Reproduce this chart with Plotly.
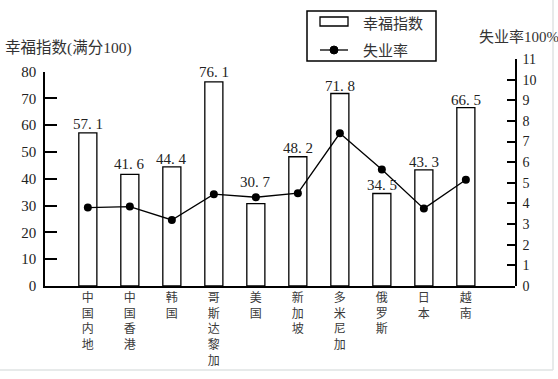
import plotly.graph_objects as go

# ---- data ----
countries = ["中国内地", "中国香港", "韩国", "哥斯达黎加", "美国",
             "新加坡", "多米尼加", "俄罗斯", "日本", "越南"]
happiness = [57.1, 41.6, 44.4, 76.1, 30.7, 48.2, 71.8, 34.5, 43.3, 66.5]
unemployment = [3.8, 3.85, 3.2, 4.45, 4.3, 4.5, 7.4, 5.65, 3.75, 5.15]
left_ticks = list(range(0, 81, 10))
right_ticks = list(range(0, 12))

# ---- styling helpers (not data) ----
bar_labels = [f"{v:.1f}".replace(".", ". ") for v in happiness]
x_labels = ["<br>".join(c) for c in countries]
label_lift = [8.5, 10, 8, 10, 21.5, 9, 7.5, 9, 7.5, 7.5]   # px above bar top

W, H = 558, 379
L, R, T, B = 45, 43, 59, 93
PW = W - L - R
PH = H - T - B


def px(x):
    return (x - L) / PW


def py(y):
    return (H - B - y) / PH


SERIF = "Liberation Serif, Noto Sans CJK SC, serif"
CJK = "Noto Sans CJK SC, sans-serif"
TXT = "#222222"

xs = list(range(len(countries)))
xrange_ = [-1.02, 10.17]

fig = go.Figure()
fig.add_trace(go.Bar(
    x=xs, y=happiness, width=0.43,
    marker=dict(color="white", line=dict(color="black", width=1.3)),
    showlegend=False, xaxis="x", yaxis="y", hoverinfo="skip",
))
fig.add_trace(go.Scatter(
    x=xs, y=unemployment, mode="lines+markers",
    line=dict(color="black", width=1.3),
    marker=dict(color="black", size=8),
    showlegend=False, xaxis="x2", yaxis="y2", cliponaxis=False,
))

fig.update_layout(
    width=W, height=H,
    margin=dict(l=L, r=R, t=T, b=B, pad=0),
    paper_bgcolor="white", plot_bgcolor="rgba(0,0,0,0)",
    showlegend=False,
    xaxis=dict(domain=[0, 1], range=xrange_, anchor="y",
               tickvals=xs, ticktext=x_labels,
               tickfont=dict(family=CJK, size=12, color="#3a3a3a"),
               showline=True, linecolor="black", linewidth=1.5,
               ticks="", showgrid=False, zeroline=False, fixedrange=True),
    yaxis=dict(domain=[0, 214.5 / PH], range=[0, 80], anchor="x",
               tickvals=left_ticks,
               ticks="inside", ticklen=12, tickwidth=1.5, tickcolor="black",
               showline=True, linecolor="black", linewidth=1.5,
               showgrid=False, zeroline=False, ticklabelstandoff=4,
               tickfont=dict(family=SERIF, size=15, color=TXT)),
    xaxis2=dict(domain=[0, 1], range=xrange_, anchor="y2", visible=False,
                showgrid=False, zeroline=False),
    yaxis2=dict(domain=[0, 1], range=[0, 11], anchor="x2", side="right",
                tickvals=right_ticks,
                ticks="inside", ticklen=8, tickwidth=1.5, tickcolor="black",
                showline=True, linecolor="black", linewidth=1.5,
                showgrid=False, zeroline=False, ticklabelstandoff=3,
                tickfont=dict(family=SERIF, size=14, color=TXT)),
)

annotations = [
    dict(text=lbl, x=xi, y=v, xref="x", yref="y", xanchor="center",
         yanchor="middle", yshift=lift, showarrow=False,
         font=dict(family=SERIF, size=15, color=TXT))
    for xi, v, lbl, lift in zip(xs, happiness, bar_labels, label_lift)
]
annotations += [
    dict(text="幸福指数(满分100)", x=px(3), y=py(48), xref="paper", yref="paper",
         xanchor="left", yanchor="middle", showarrow=False,
         font=dict(family=SERIF, size=15.5, color="#333333")),
    dict(text="失业率100%", x=px(477), y=py(37), xref="paper", yref="paper",
         xanchor="left", yanchor="middle", showarrow=False,
         font=dict(family=SERIF, size=15, color="#333333")),
    dict(text="幸福指数", x=px(361), y=py(22), xref="paper", yref="paper",
         xanchor="left", yanchor="middle", showarrow=False,
         font=dict(family=CJK, size=15, color="#333333")),
    dict(text="失业率", x=px(361), y=py(50), xref="paper", yref="paper",
         xanchor="left", yanchor="middle", showarrow=False,
         font=dict(family=CJK, size=15, color="#333333")),
]

shapes = [
    # legend box
    dict(type="rect", xref="paper", yref="paper",
         x0=px(307), x1=px(436), y0=py(61), y1=py(11),
         line=dict(color="black", width=1.5), fillcolor="white", layer="above"),
    # bar symbol
    dict(type="rect", xref="paper", yref="paper",
         x0=px(320), x1=px(348), y0=py(26), y1=py(17),
         line=dict(color="black", width=1.3), fillcolor="white", layer="above"),
    # line symbol
    dict(type="line", xref="paper", yref="paper",
         x0=px(320), x1=px(348), y0=py(50), y1=py(50),
         line=dict(color="black", width=1.3), layer="above"),
    dict(type="circle", xref="paper", yref="paper",
         x0=px(330), x1=px(338), y0=py(54), y1=py(46),
         line=dict(color="black", width=1), fillcolor="black", layer="above"),
    # faint scan frame
    dict(type="line", xref="paper", yref="paper",
         x0=px(553), x1=px(553), y0=py(370), y1=py(0),
         line=dict(color="#dfe3e3", width=1.5), layer="above"),
    dict(type="line", xref="paper", yref="paper",
         x0=px(0), x1=px(553), y0=py(370), y1=py(370),
         line=dict(color="#dfe3e3", width=1.5), layer="above"),
]

fig.update_layout(annotations=annotations, shapes=shapes)

fig.write_html("out.html", config={"displayModeBar": False},
               post_script="document.body.style.margin='0';")
